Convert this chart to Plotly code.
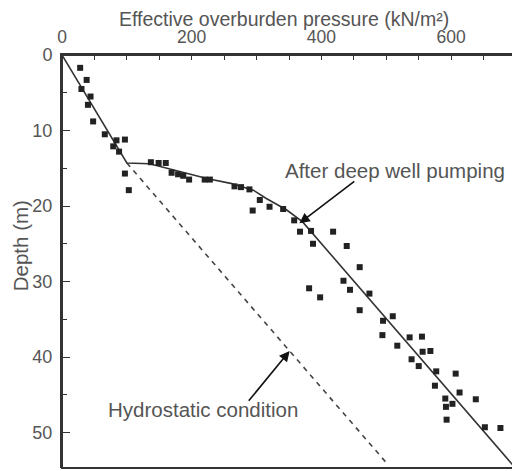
import plotly.graph_objects as go

# measured points: effective overburden pressure (kN/m2) vs depth (m)
pressure = [28, 38, 30, 44, 40, 48, 66, 84, 97, 79, 88, 97, 103,
            137, 149, 160, 169, 179, 187, 196, 220, 228, 266, 276, 289,
            305, 294, 320, 341, 358,
            367, 384, 418, 387, 439, 459, 434, 444, 381, 398, 474, 459,
            495, 510, 494, 536, 555, 517, 556, 568, 539, 550, 577, 607,
            575, 613, 591, 638, 592, 602, 593, 652, 676]
depth = [1.7, 3.3, 4.5, 5.5, 6.6, 8.8, 10.5, 11.3, 11.2, 12.1, 12.8, 15.7, 17.9,
         14.2, 14.3, 14.3, 15.6, 15.8, 16.0, 16.5, 16.5, 16.5, 17.4, 17.5, 17.8,
         19.2, 20.6, 20.1, 20.4, 21.9,
         23.4, 23.3, 23.4, 25.0, 25.3, 28.1, 29.9, 31.1, 30.9, 32.1, 31.6, 33.8,
         35.2, 34.6, 37.1, 37.4, 37.3, 38.5, 39.3, 39.2, 40.3, 41.2, 41.9, 42.2,
         43.8, 44.7, 45.5, 45.6, 46.6, 46.2, 48.3, 49.3, 49.4]

# after deep well pumping (solid line)
pump_x = [0, 100, 135, 225, 260, 295, 315, 346, 371, 700]
pump_y = [0, 14.3, 14.4, 16.4, 17.0, 17.9, 19.0, 20.5, 22.1, 54.8]

# hydrostatic condition (dashed line)
hydro_x = [100, 500]
hydro_y = [14.3, 54.0]

font = "Liberation Sans, Arial, sans-serif"
gray = "#555555"

fig = go.Figure()
fig.add_trace(go.Scatter(x=hydro_x, y=hydro_y, mode="lines",
                         line=dict(color="#444444", width=1.6, dash="5px,5px")))
fig.add_trace(go.Scatter(x=pump_x, y=pump_y, mode="lines",
                         line=dict(color="#333333", width=1.6)))
fig.add_trace(go.Scatter(x=pressure, y=depth, mode="markers",
                         marker=dict(symbol="square", size=6, color="#222222")))

# frame round the plot area
fig.add_shape(type="rect", xref="paper", yref="paper", x0=0, x1=1, y0=0, y1=1,
              line=dict(color="#333333", width=2))

fig.add_annotation(x=366, y=22.3, ax=453, ay=16.6, xref="x", yref="y",
                   axref="x", ayref="y", text="", showarrow=True,
                   arrowhead=2, arrowsize=1.3, arrowwidth=1.6, arrowcolor="#111111")
fig.add_annotation(x=351, y=39.2, ax=286, ay=46, xref="x", yref="y",
                   axref="x", ayref="y", text="", showarrow=True,
                   arrowhead=2, arrowsize=1.3, arrowwidth=1.6, arrowcolor="#111111")
fig.add_annotation(x=514, y=15.3, text="After deep well pumping", showarrow=False,
                   xanchor="center", yanchor="middle",
                   font=dict(family=font, size=20.5, color=gray))
fig.add_annotation(x=217, y=47, text="Hydrostatic condition", showarrow=False,
                   xanchor="center", yanchor="middle",
                   font=dict(family=font, size=20.5, color=gray))

fig.add_annotation(x=0.489, y=1.0, xref="paper", yref="paper", yshift=36,
                   xanchor="center", yanchor="middle",
                   text="Effective overburden pressure (kN/m²)",
                   showarrow=False, font=dict(family=font, size=19.5, color=gray))
fig.add_annotation(x=-0.092, y=0.5375, xref="paper", yref="paper",
                   xanchor="center", yanchor="middle",
                   text="Depth (m)", textangle=-90,
                   showarrow=False, font=dict(family=font, size=20.5, color=gray))

# the page body adds 8px on the top and left, so the figure is 8px smaller
fig.update_layout(
    width=512,
    height=463,
    margin=dict(l=54, r=4, t=47, b=3),
    paper_bgcolor="white",
    plot_bgcolor="white",
    showlegend=False,
    xaxis=dict(
        range=[0, 700],
        side="top",
        tickvals=[0, 200, 400, 600],
        ticks="inside",
        ticklen=5,
        tickcolor="#333333",
        minor=dict(dtick=50, ticks="inside", ticklen=5, tickcolor="#333333"),
        showgrid=False,
        zeroline=False,
        showline=True,
        linewidth=2,
        linecolor="#333333",
        ticklabelstandoff=3,
        tickfont=dict(family=font, size=17.5, color=gray),
    ),
    yaxis=dict(
        range=[54.7, 0],
        tickvals=[0, 10, 20, 30, 40, 50],
        ticks="inside",
        ticklen=8,
        tickcolor="#333333",
        minor=dict(dtick=5, ticks="inside", ticklen=5, tickcolor="#333333"),
        showgrid=False,
        zeroline=False,
        showline=True,
        linewidth=2,
        linecolor="#333333",
        ticklabelstandoff=4,
        tickfont=dict(family=font, size=18, color=gray),
    ),
)

fig.write_html("out.html")
